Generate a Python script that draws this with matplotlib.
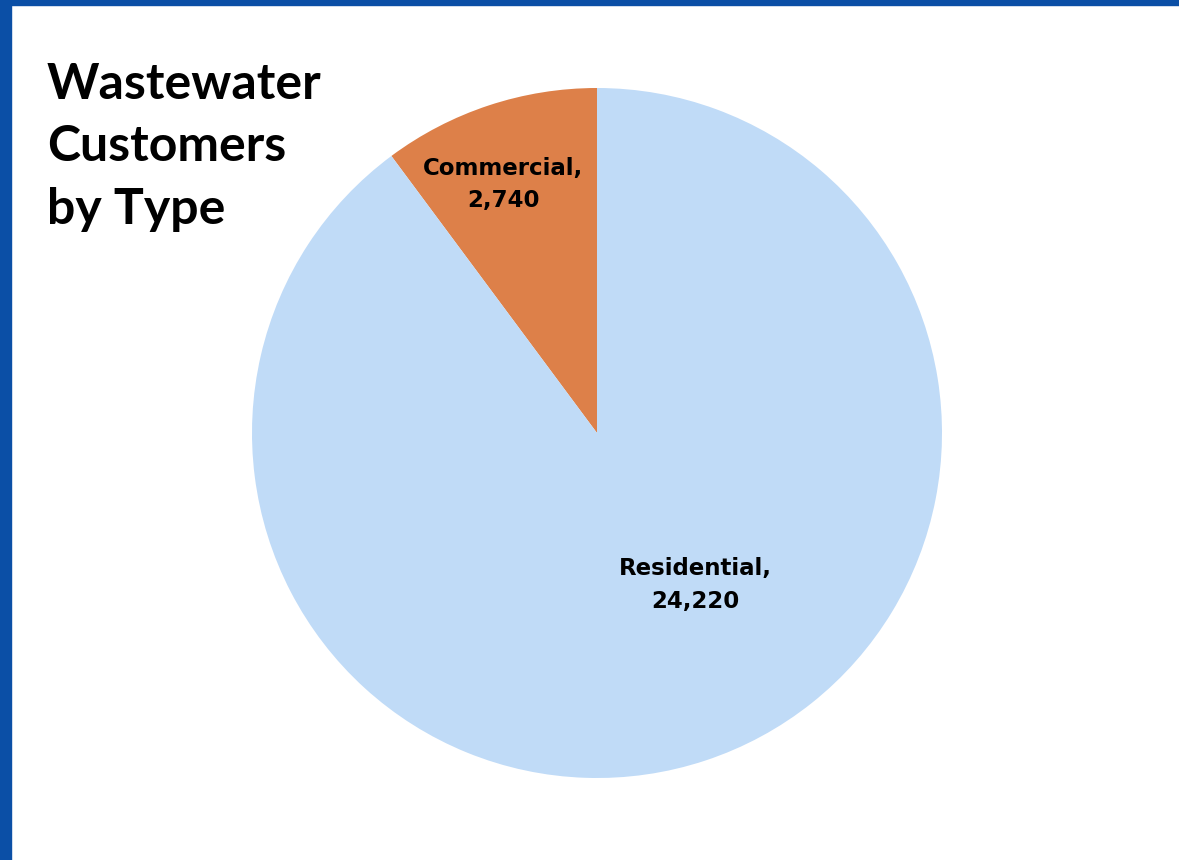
import numpy as np
import matplotlib.pyplot as plt
from matplotlib.patches import Rectangle

categories = ['Commercial', 'Residential']
customers = [2740, 24220]
colors = ['#dd8049', '#c0dbf7']

fig = plt.figure(figsize=(11.79, 8.6), dpi=100)
W, H = 1179, 860

# blue frame on top and left
fig.patches.append(Rectangle((0, 1 - 5 / H), 1, 5 / H, transform=fig.transFigure,
                             color='#0b4fa6', zorder=0))
fig.patches.append(Rectangle((0, 0), 11 / W, 1, transform=fig.transFigure,
                             color='#0b4fa6', zorder=0))

# pie axes: center (597, 433), radius 345 px
cx, cy, r = 597, 433, 345
ax = fig.add_axes([(cx - r) / W, 1 - (cy + r) / H, 2 * r / W, 2 * r / H])
ax.pie(customers, colors=colors, startangle=90, counterclock=True, radius=1,
       wedgeprops=dict(linewidth=0))
ax.set_xlim(-1, 1)
ax.set_ylim(-1, 1)
ax.set_aspect('equal')
ax.axis('off')

label_pos = {'Commercial': (110.7, 0.77), 'Residential': (-57.2, 0.525)}
for name, val in zip(categories, customers):
    ang, dist = label_pos[name]
    x = dist * np.cos(np.radians(ang))
    y = dist * np.sin(np.radians(ang))
    ax.text(x, y, f'{name},\n{val:,}', ha='center', va='center', fontsize=16.5,
            fontweight='bold', family='DejaVu Sans', linespacing=1.55)

fig.text(47 / W, 1 - 62 / H, 'Wastewater\nCustomers\nby Type', ha='left', va='top',
         fontsize=36, fontweight='bold', family='Lato', linespacing=1.47)

plt.savefig('out.png', dpi=100)
